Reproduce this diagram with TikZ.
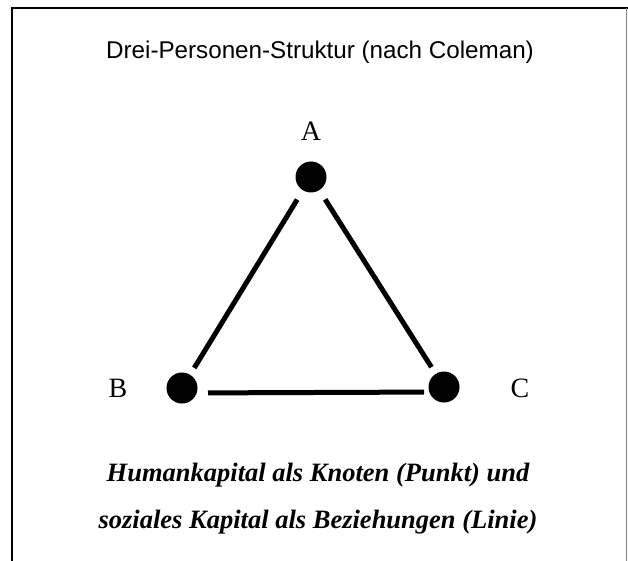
\documentclass[tikz,border=0pt]{standalone}
\usepackage{fontspec}
\setmainfont{Liberation Serif}
\newfontfamily\arialfont{Liberation Sans}
\begin{document}
\begin{tikzpicture}[x=1pt,y=-1pt,
  person/.style={circle,fill=black,minimum size=31pt,inner sep=0pt,outer sep=0pt},
  lbl/.style={font=\fontsize{28}{32}\selectfont,inner sep=0pt},
  tie/.style={line width=5pt,black},
  caption/.style={font=\fontsize{26.5}{31}\selectfont\bfseries\itshape,anchor=base,inner sep=0pt}]
\useasboundingbox (0,0) rectangle (628,561);
\fill[white] (0,0) rectangle (628,561);
% frame
\draw[line width=2.5pt,black] (12,561) -- (12,8) -- (628,8);
\draw[line width=1pt,black!50] (626.5,8) -- (626.5,561);
% title
\node[font=\arialfont\fontsize{24.2}{28}\selectfont,anchor=base,inner sep=0pt] (title) at (320,59) {Drei-Personen-Struktur (nach Coleman)};
% persons
\node[person] (A) at (311,177) {};
\node[person] (B) at (182,388) {};
\node[person] (C) at (444,387) {};
\node[lbl] (la) at (311,131) {A};
\node[lbl] (lb) at (118,388) {B};
\node[lbl] (lc) at (520,388) {C};
% ties
\draw[tie,shorten <=11pt,shorten >=8pt] (A) -- (B);
\draw[tie,shorten <=11pt,shorten >=8pt] (A) -- (C);
\draw[tie,shorten <=26pt,shorten >=20pt] ([yshift=-5pt]B.center) -- ([yshift=-5pt]C.center);
% caption
\node[caption] (cap1) at (318,481) {Humankapital als Knoten (Punkt) und};
\node[caption] (cap2) at (318,528) {soziales Kapital als Beziehungen (Linie)};
\end{tikzpicture}
\end{document}
